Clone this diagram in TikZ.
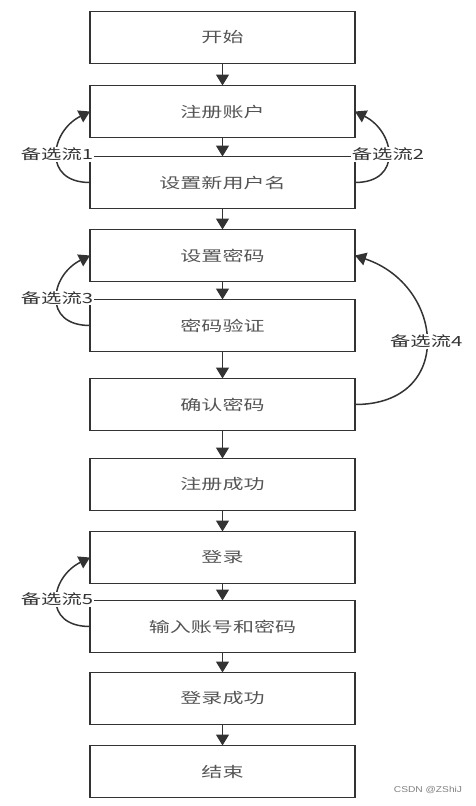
\documentclass[tikz,border=0pt]{standalone}
\usepackage{fontspec}
\usetikzlibrary{positioning,arrows.meta}
\newfontfamily\cjk[FakeStretch=1.45]{Noto Sans CJK SC}
\newfontfamily\wmfont[FakeStretch=1.2]{Liberation Sans}
\definecolor{linegray}{HTML}{333333}
\definecolor{textgray}{HTML}{555555}

\tikzset{
  rect/.style={draw=linegray,line width=1.8pt,rectangle,minimum width=265pt,
    minimum height=52pt,inner sep=0pt,outer sep=0pt,text=textgray,
    font=\cjk\fontsize{14.5}{16}\selectfont},
  alt/.style={fill=white,inner sep=1pt,text=linegray,font=\cjk\fontsize{14}{16}\selectfont},
  flow/.style={draw=linegray,line width=1.5pt,-{Triangle[width=13pt,length=11pt]}},
}

\begin{document}
\begin{tikzpicture}[x=1pt,y=1pt]
\useasboundingbox (0,0) rectangle (476,-806);

\node[rect] (start) at (222.5,-37.5) {开始};
\node[rect,below=22pt of start] (reg) {注册账户};
\node[rect,below=19pt of reg] (name) {设置新用户名};
\node[rect,below=21pt of name] (pwd) {设置密码};
\node[rect,below=18pt of pwd] (check) {密码验证};
\node[rect,below=27pt of check] (confirm) {确认密码};
\node[rect,below=28pt of confirm] (regok) {注册成功};
\node[rect,below=21pt of regok] (login) {登录};
\node[rect,below=17pt of login] (input) {输入账号和密码};
\node[rect,below=20pt of input] (loginok) {登录成功};
\node[rect,below=21pt of loginok] (finish) {结束};

\draw[flow] (start) -- (reg);
\draw[flow] (reg) -- (name);
\draw[flow] (name) -- (pwd);
\draw[flow] (pwd) -- (check);
\draw[flow] (check) -- (confirm);
\draw[flow] (confirm) -- (regok);
\draw[flow] (regok) -- (login);
\draw[flow] (login) -- (input);
\draw[flow] (input) -- (loginok);
\draw[flow] (loginok) -- (finish);

% alternative flows
\draw[flow] (name.west) .. controls +(-48,0) and +(-40,-20) .. (reg.west)
  node[alt,pos=.5] {备选流1};
\draw[flow] (name.east) .. controls +(48,0) and +(40,-20) .. (reg.east)
  node[alt,pos=.5] {备选流2};
\draw[flow] (check.west) .. controls +(-48,0) and +(-40,-20) .. (pwd.west)
  node[alt,pos=.5] {备选流3};
\draw[flow] (confirm.east) .. controls +(100,0) and +(90,-30) .. (pwd.east)
  node[alt,pos=.5] {备选流4};
\draw[flow] (input.west) .. controls +(-48,0) and +(-40,-20) .. (login.west)
  node[alt,pos=.5] {备选流5};

\node[text=gray,font=\wmfont\fontsize{8.5}{10}\selectfont] (mark) at (428,-790) {CSDN @ZShiJ};
\end{tikzpicture}
\end{document}
